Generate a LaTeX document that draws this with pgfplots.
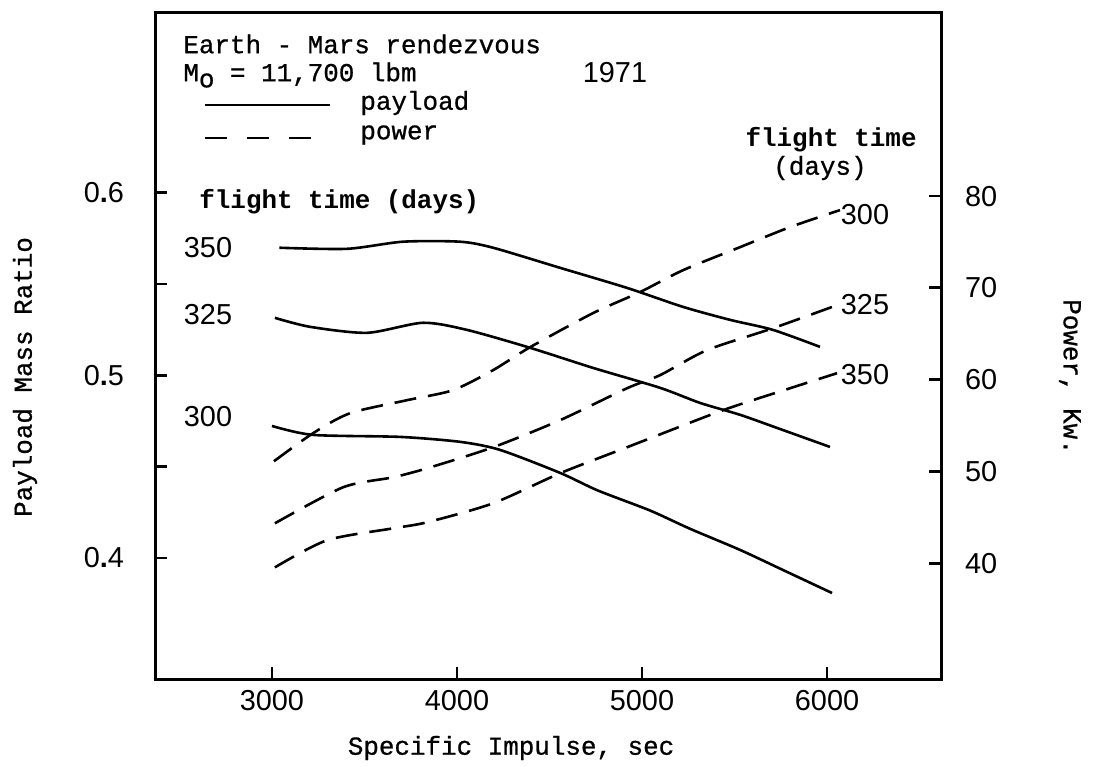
\documentclass[border=0pt]{standalone}
\usepackage{fontspec}
\setmainfont{Liberation Mono}
\newfontfamily\twf[FakeBold=0.8]{Liberation Mono}
\newfontfamily\hand{Liberation Sans}
\usepackage{pgfplots}
\pgfplotsset{compat=1.18}
\newcommand\tw{\twf\fontsize{13}{15}\selectfont}
\newcommand\twb{\rmfamily\bfseries\fontsize{13}{15}\selectfont}
\newcommand\hd{\hand\fontsize{14.5}{16}\selectfont}
\begin{document}
\begin{tikzpicture}
\begin{scope}[x=0.5bp, y=-0.5bp, shift={(-77.5bp,339.5bp)}]
\path[use as bounding box] (0,0) rectangle (1098,764);
\end{scope}
\pgfplotsset{
  base/.style={at={(0,0)}, anchor=south west, scale only axis,
    width=393bp, height=333.5bp, xmin=2368, xmax=6616,
    tick align=inside, major tick length=6bp, minor tick length=6bp,
    major tick style={black, line width=1.4bp},
    minor tick style={black, line width=1.4bp},
    label style={font=\tw}},
  pay/.style={black, line width=1.3bp, smooth, tension=0.45},
  pow/.style={black, line width=1.3bp, smooth, tension=0.45, dash pattern=on 11bp off 6bp}
}
\begin{axis}[base,
  ymin=0.3337, ymax=0.699,
  axis line style={line width=1.5bp},
  tick pos=left,
  xtick={3000,4000,5000,6000}, xticklabels={3000,4000,5000,6000},
  ytick={0.4,0.5,0.6}, yticklabels={0{\bfseries.}4,0{\bfseries.}5,0{\bfseries.}6},
  minor ytick={0.45,0.55},
  xticklabel style={font=\hd, yshift=-2bp},
  yticklabel style={font=\hd, xshift=-12bp},
  xlabel={Specific Impulse, sec}, ylabel={Payload Mass Ratio},
  xlabel style={at={(axis description cs:0.453,-0.1034)}, anchor=center},
  ylabel style={at={(axis description cs:-0.1654,0.4528)}, anchor=center},
]
% payload, flight time 350 days
\addplot[pay] coordinates {(3040,0.5699) (3405,0.5693) (3708,0.5732) (4016,0.5732) (4195,0.5699) (4557,0.5589) (4919,0.5479) (5222,0.5375) (5476,0.5304) (5708,0.5249) (5962,0.5156)};
% payload, 325 days
\addplot[pay] coordinates {(3016,0.5315) (3205,0.5266) (3514,0.5233) (3816,0.5288) (4054,0.5249) (4395,0.5151) (4735,0.5041) (5097,0.4932) (5314,0.4849) (5530,0.4784) (5730,0.4712) (6016,0.4608)};
% payload, 300 days
\addplot[pay] coordinates {(3000,0.4723) (3222,0.4674) (3692,0.4663) (4016,0.4636) (4232,0.4592) (4557,0.4466) (4760,0.4370) (5043,0.4260) (5259,0.4160) (5530,0.4044) (5762,0.3934) (6027,0.3808)};
\end{axis}
\begin{axis}[base,
  ymin=27.4, ymax=100.05,
  axis line style={draw=none},
  xtick=\empty, ytick pos=right,
  ytick={40,50,60,70,80}, yticklabels={40,50,60,70,80},
  yticklabel style={font=\hd, xshift=8.5bp},
  ylabel={Power, Kw.},
  ylabel style={at={(axis description cs:1.164,0.4528)}, anchor=center, rotate=180},
]
% power, 300 days
\addplot[pow] coordinates {(3011,51.12) (3222,54.17) (3422,56.35) (3730,57.77) (3978,58.86) (4195,61.04) (4395,63.54) (4735,67.25) (4989,69.54) (5222,71.93) (5530,74.44) (5800,76.62) (6070,78.47)};
% power, 325 days
\addplot[pow] coordinates {(3016,44.36) (3384,48.28) (3654,49.37) (3838,50.35) (4195,52.64) (4557,55.59) (4919,59.07) (5097,60.49) (5351,63.22) (5708,65.61) (6054,68.12)};
% power, 350 days
\addplot[pow] coordinates {(3016,39.56) (3297,42.51) (3654,43.81) (3838,44.47) (4195,46.54) (4557,49.81) (4919,52.64) (4989,53.19) (5438,56.68) (5800,59.07) (6054,60.71)};
\end{axis}
\begin{scope}[x=0.5bp, y=-0.5bp, shift={(-77.5bp,339.5bp)}]
\node[anchor=west, inner sep=0, font=\tw] at (183,44) {Earth - Mars rendezvous};
\node[anchor=west, inner sep=0, font=\tw] at (183,75) {M\raisebox{-0.45ex}{o} = 11,700 lbm};
\node[inner sep=0, font=\hd] at (615,73) {1971};
\draw[line width=1.4bp] (205,105) -- (330,105);
\node[anchor=west, inner sep=0, font=\tw] at (360,103) {payload};
\draw[line width=1.4bp, dash pattern=on 11bp off 10bp] (205,138) -- (330,138);
\node[anchor=west, inner sep=0, font=\tw] at (360,135) {power};
\node[anchor=west, inner sep=0, font=\twb] at (199,202) {flight time (days)};
\node[anchor=east, inner sep=0, font=\twb] at (917,140) {flight time};
\node[anchor=east, inner sep=0, font=\tw] at (867,168) {(days)};
\node[inner sep=0, font=\hd] at (208,248) {350};
\node[inner sep=0, font=\hd] at (208,315) {325};
\node[inner sep=0, font=\hd] at (208,417) {300};
\node[inner sep=0, font=\hd] at (865,215) {300};
\node[inner sep=0, font=\hd] at (865,305) {325};
\node[inner sep=0, font=\hd] at (865,375) {350};
\end{scope}
\end{tikzpicture}
\end{document}
